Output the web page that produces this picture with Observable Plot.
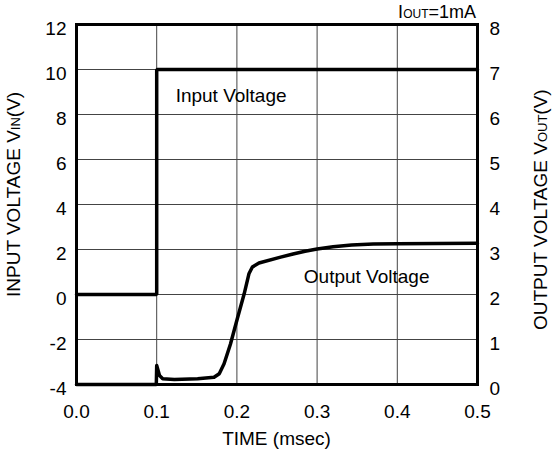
<!DOCTYPE html>
<html>
<head>
<meta charset="utf-8">
<script src="https://cdn.jsdelivr.net/npm/d3@7"></script>
<script src="https://cdn.jsdelivr.net/npm/@observablehq/plot@0.6"></script>
<style>
  html, body { margin: 0; padding: 0; background: white; }
  #chart svg { display: block; }
</style>
</head>
<body>
<div id="chart"></div>
<script>
// Input voltage (V) vs time (msec)
const timeIn = [0, 0.1, 0.1, 0.5];
const vin = [0, 0, 10, 10];

// Output voltage (V) vs time (msec)
const timeOut = [0, 0.0995, 0.1, 0.1035, 0.1075, 0.122, 0.151, 0.1715, 0.178, 0.184, 0.192, 0.2005, 0.209, 0.215, 0.2193, 0.2275, 0.2545, 0.27, 0.285, 0.3, 0.32, 0.343, 0.37, 0.4, 0.5];
const vout   = [0, 0, 0.42, 0.2, 0.13, 0.11, 0.13, 0.16, 0.24, 0.46, 0.9, 1.46, 2.01, 2.46, 2.61, 2.7, 2.83, 2.9, 2.96, 3.01, 3.06, 3.1, 3.12, 3.13, 3.14];

// Axis ticks
const xTicks = [0, 0.1, 0.2, 0.3, 0.4, 0.5];
const yLeftTicks = [-4, -2, 0, 2, 4, 6, 8, 10, 12];
const yRightTicks = [0, 1, 2, 3, 4, 5, 6, 7, 8];

// Labels
const xLabel = "TIME (msec)";
const yLeftLabel = ["INPUT VOLTAGE V", "IN", "(V)"];
const yRightLabel = ["OUTPUT VOLTAGE V", "OUT", "(V)"];
const condLabel = ["I", "OUT", "=1mA"];
const seriesLabels = [
  {t: 0.1236, v: 8.84, text: "Input Voltage"},
  {t: 0.2834, v: 0.77, text: "Output Voltage"}
];

const inData = timeIn.map((t, i) => ({t, v: vin[i]}));
// right axis (0..8 V) maps onto left axis (-4..12 V): left = 2*out - 4
const outData = timeOut.map((t, i) => ({t, v: 2 * vout[i] - 4}));

const font = "'Liberation Sans', Arial, Helvetica, sans-serif";

const plot = Plot.plot({
  width: 552,
  height: 455,
  marginLeft: 76,
  marginRight: 75,
  marginTop: 24,
  marginBottom: 71,
  style: {fontFamily: font, fontSize: "19px", background: "white", color: "black"},
  x: {domain: [0, 0.5]},
  y: {domain: [-4, 12]},
  marks: [
    Plot.gridX(xTicks, {stroke: "#444", strokeOpacity: 1, strokeWidth: 1}),
    Plot.gridY(yLeftTicks, {stroke: "#444", strokeOpacity: 1, strokeWidth: 1}),
    Plot.axisX({ticks: xTicks, tickSize: 0, tickPadding: 20, tickFormat: d3.format(".1f"), label: null, fontSize: 19}),
    Plot.axisY({ticks: yLeftTicks, anchor: "left", tickSize: 0, tickPadding: 10, label: null, fontSize: 19, dy: 4,
      tickFormat: d => String(d)}),
    Plot.axisY({ticks: yLeftTicks, anchor: "right", tickSize: 0, tickPadding: 12, label: null, fontSize: 19, dy: 4,
      tickFormat: (d, i) => String(yRightTicks[i])}),
    Plot.frame({stroke: "black", strokeWidth: 3}),
    Plot.line(inData, {x: "t", y: "v", stroke: "black", strokeWidth: 3.5, strokeLinejoin: "miter"}),
    Plot.line(outData, {x: "t", y: "v", stroke: "black", strokeWidth: 3.5, strokeLinejoin: "round"}),
    Plot.text(seriesLabels, {x: "t", y: "v", text: "text", textAnchor: "start", fontSize: 19, fill: "black"})
  ]
});

document.getElementById("chart").appendChild(plot);

const svg = d3.select(plot);
function addText(parts, sizes, attrs) {
  const t = svg.append("text")
    .attr("font-family", font)
    .attr("fill", "black");
  Object.entries(attrs).forEach(([k, v]) => t.attr(k, v));
  parts.forEach((p, i) => t.append("tspan").attr("font-size", sizes[i]).text(p));
  return t;
}
addText([xLabel], [19], {x: 276.5, y: 445, "text-anchor": "middle"});
addText(yLeftLabel, [19, 13, 19], {transform: "translate(19.5,297) rotate(-90)", "text-anchor": "start"});
addText(yRightLabel, [19, 13, 19], {transform: "translate(547,330) rotate(-90)", "text-anchor": "start"});
addText(condLabel, [18, 12, 18], {x: 476, y: 18, "text-anchor": "end"});
</script>
</body>
</html>
